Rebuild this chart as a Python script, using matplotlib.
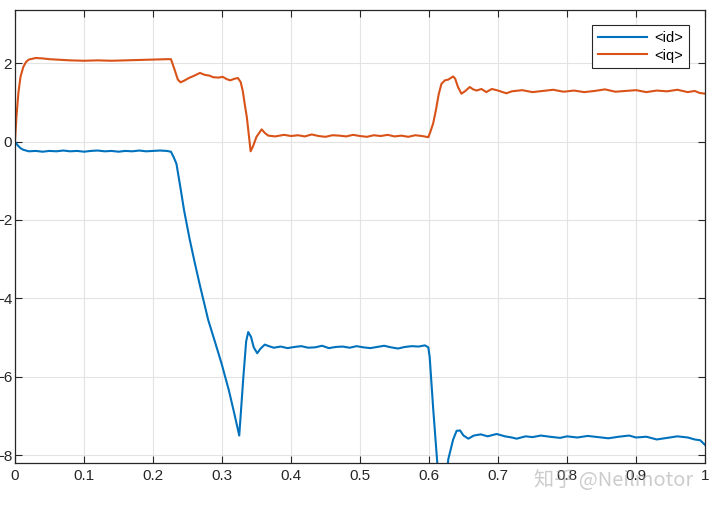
import matplotlib.pyplot as plt

# (time in s, current in A)
t_id = [0.000, 0.004, 0.008, 0.012, 0.016, 0.020, 0.030, 0.040, 0.050, 0.060,
        0.070, 0.080, 0.090, 0.100, 0.110, 0.120, 0.130, 0.140, 0.150, 0.160,
        0.170, 0.180, 0.190, 0.200, 0.210, 0.220, 0.226, 0.230, 0.234, 0.240,
        0.245, 0.253, 0.260, 0.268, 0.280, 0.290, 0.2995, 0.310, 0.318, 0.325,
        0.331, 0.335, 0.338, 0.342, 0.346, 0.351, 0.356, 0.362, 0.368, 0.375,
        0.385, 0.395, 0.405, 0.415, 0.425, 0.435, 0.445, 0.455, 0.465, 0.475,
        0.485, 0.495, 0.505, 0.515, 0.525, 0.535, 0.545, 0.555, 0.565, 0.575,
        0.585, 0.594, 0.599, 0.601, 0.606, 0.612, 0.618, 0.624, 0.628, 0.635,
        0.640, 0.645, 0.650, 0.657, 0.665, 0.675, 0.685, 0.698, 0.710, 0.720,
        0.727, 0.740, 0.750, 0.762, 0.775, 0.790, 0.800, 0.815, 0.830, 0.845,
        0.860, 0.875, 0.890, 0.900, 0.915, 0.930, 0.945, 0.960, 0.975, 0.985,
        0.993, 1.000]
id_vals = [0.00, -0.10, -0.17, -0.21, -0.23, -0.25, -0.24, -0.26, -0.24, -0.25,
           -0.23, -0.25, -0.24, -0.26, -0.24, -0.23, -0.25, -0.24, -0.26, -0.24,
           -0.25, -0.23, -0.25, -0.24, -0.23, -0.24, -0.26, -0.40, -0.57, -1.20,
           -1.75, -2.48, -3.05, -3.67, -4.55, -5.12, -5.67, -6.35, -6.95, -7.50,
           -6.00, -5.10, -4.86, -4.98, -5.25, -5.40, -5.28, -5.18, -5.22, -5.26,
           -5.23, -5.27, -5.24, -5.22, -5.26, -5.25, -5.21, -5.27, -5.24, -5.23,
           -5.26, -5.22, -5.25, -5.27, -5.24, -5.21, -5.25, -5.28, -5.24, -5.22,
           -5.23, -5.20, -5.25, -5.50, -6.80, -8.20, -8.80, -8.70, -8.10, -7.60,
           -7.38, -7.37, -7.50, -7.58, -7.50, -7.47, -7.52, -7.46, -7.52, -7.55,
           -7.58, -7.52, -7.54, -7.50, -7.53, -7.56, -7.52, -7.55, -7.51, -7.54,
           -7.57, -7.53, -7.50, -7.55, -7.53, -7.60, -7.56, -7.52, -7.55, -7.60,
           -7.62, -7.74]

t_iq = [0.000, 0.002, 0.005, 0.008, 0.012, 0.016, 0.020, 0.030, 0.040, 0.050,
        0.060, 0.080, 0.100, 0.120, 0.140, 0.160, 0.180, 0.200, 0.220, 0.226,
        0.231, 0.236, 0.240, 0.245, 0.252, 0.260, 0.268, 0.275, 0.282, 0.287,
        0.295, 0.301, 0.307, 0.312, 0.318, 0.323, 0.327, 0.330, 0.333, 0.336,
        0.339, 0.3415, 0.345, 0.350, 0.3575, 0.362, 0.367, 0.377, 0.390, 0.400,
        0.410, 0.420, 0.430, 0.440, 0.450, 0.460, 0.470, 0.480, 0.490, 0.500,
        0.510, 0.520, 0.530, 0.540, 0.550, 0.560, 0.570, 0.580, 0.590, 0.599,
        0.602, 0.606, 0.610, 0.614, 0.618, 0.623, 0.628, 0.635, 0.638, 0.642,
        0.647, 0.652, 0.659, 0.664, 0.669, 0.676, 0.683, 0.691, 0.700, 0.712,
        0.720, 0.735, 0.750, 0.765, 0.780, 0.795, 0.810, 0.825, 0.840, 0.855,
        0.870, 0.885, 0.900, 0.915, 0.930, 0.945, 0.960, 0.975, 0.985, 0.992,
        1.000]
iq_vals = [0.00, 0.60, 1.25, 1.65, 1.90, 2.03, 2.09, 2.13, 2.12, 2.10,
           2.09, 2.07, 2.06, 2.07, 2.06, 2.07, 2.08, 2.09, 2.10, 2.10,
           1.85, 1.58, 1.51, 1.55, 1.62, 1.68, 1.75, 1.70, 1.68, 1.64,
           1.63, 1.65, 1.59, 1.56, 1.60, 1.62, 1.52, 1.30, 0.95, 0.62,
           0.15, -0.25, -0.12, 0.12, 0.31, 0.22, 0.15, 0.13, 0.17, 0.14,
           0.16, 0.13, 0.18, 0.14, 0.12, 0.16, 0.15, 0.13, 0.17, 0.14,
           0.12, 0.16, 0.14, 0.17, 0.13, 0.15, 0.12, 0.16, 0.14, 0.11,
           0.25, 0.46, 0.80, 1.20, 1.47, 1.56, 1.58, 1.66, 1.60, 1.39,
           1.22, 1.28, 1.39, 1.33, 1.30, 1.34, 1.26, 1.34, 1.30, 1.23,
           1.28, 1.31, 1.26, 1.29, 1.32, 1.27, 1.30, 1.26, 1.29, 1.33,
           1.27, 1.29, 1.31, 1.26, 1.30, 1.28, 1.32, 1.26, 1.29, 1.24,
           1.22]

series_labels = ['<id>', '<iq>']
x_ticks = [0, 0.1, 0.2, 0.3, 0.4, 0.5, 0.6, 0.7, 0.8, 0.9, 1]
x_tick_labels = ['0', '0.1', '0.2', '0.3', '0.4', '0.5', '0.6', '0.7', '0.8', '0.9', '1']
y_ticks = [-8, -6, -4, -2, 0, 2]

plt.rcParams['font.family'] = ['Liberation Sans', 'DejaVu Sans']

fig = plt.figure(figsize=(7.2, 5.09), dpi=100)
ax = fig.add_axes([0.0208, 0.0904, 0.9584, 0.8896])

ax.plot(t_id, id_vals, color='#0072BD', linewidth=1.5, label=series_labels[0])
ax.plot(t_iq, iq_vals, color='#D95319', linewidth=1.5, label=series_labels[1])

ax.set_xlim(0, 1)
ax.set_ylim(-8.2, 3.35)
ax.set_xticks(x_ticks)
ax.set_xticklabels(x_tick_labels)
ax.set_yticks(y_ticks)

# matlab-like box: ticks inside on every side, pale grid
ax.grid(True, color='#e3e3e3', linewidth=0.8)
ax.set_axisbelow(True)
ax.tick_params(direction='in', top=True, right=True, length=5, width=0.8,
               labelsize=11, pad=4, colors='#262626')
ax.tick_params(axis='y', pad=2)
for sp in ax.spines.values():
    sp.set_color('#262626')
    sp.set_linewidth(0.9)

leg = ax.legend(loc='upper right', bbox_to_anchor=(0.977, 0.967), borderaxespad=0,
                fontsize=10.5, handlelength=3.4, fancybox=False, framealpha=1,
                borderpad=0.4, labelspacing=0.25, handletextpad=0.5)
leg.get_frame().set_edgecolor('#262626')
leg.get_frame().set_linewidth(0.8)

# watermark
fig.text(0.742, 0.045, '知乎 @Neilmotor', fontsize=14.5, color='#9a9a9a', alpha=0.5,
         family=['Noto Sans CJK SC', 'DejaVu Sans'])

fig.savefig('out.png', dpi=100)
